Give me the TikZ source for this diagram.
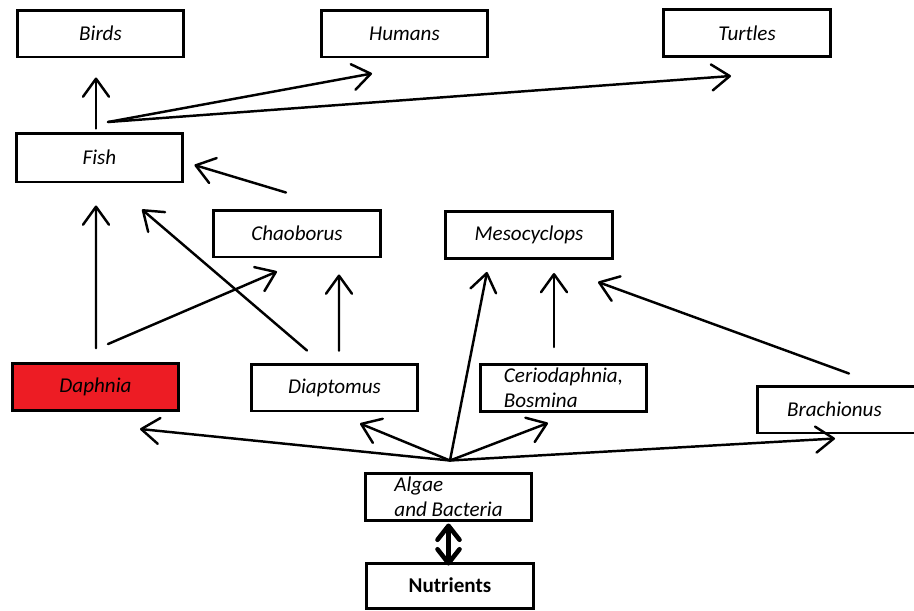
\documentclass[tikz,border=0pt]{standalone}
\usepackage{fontspec}
\setmainfont{Carlito}
\usetikzlibrary{arrows.meta,calc}
\definecolor{paintred}{RGB}{237,28,36}
\tikzset{
  taxon/.style={draw=black,line width=1.7pt,fill=#1,minimum width=3.34cm,
    minimum height=0.94cm,inner sep=2pt,font=\fontsize{12}{14}\selectfont\itshape},
  taxon/.default=white,
  feed/.style={-{Straight Barb[length=3.6mm,width=5.2mm,round]},line width=1.4pt,line cap=round},
  cycle/.style={{Straight Barb[length=2.8mm,width=4.4mm,round]}-{Straight Barb[length=2.8mm,width=4.4mm,round]},
    line width=2.6pt},
}
\begin{document}
\begin{tikzpicture}[x=0.02cm,y=-0.02cm]
  \useasboundingbox (0,0) rectangle (914,610);
  % top predators
  \node[taxon] (birds) at (100.5,33.5) {Birds};
  \node[taxon] (humans) at (404.5,33.5) {Humans};
  \node[taxon] (turtles) at (747,33) {Turtles};
  \node[taxon,minimum height=0.98cm] (fish) at (99.5,157.5) {Fish};
  % invertebrate predators
  \node[taxon] (chaob) at (297,233.5) {Chaoborus};
  \node[taxon] (meso) at (529,235) {Mesocyclops};
  % grazers
  \node[taxon=paintred] (daphnia) at (95.5,387) {Daphnia};
  \node[taxon] (diapt) at (334.5,387.5) {Diaptomus};
  \node[taxon,align=left] (cerio) at (563.5,388) {Ceriodaphnia,\\Bosmina};
  \node[taxon,minimum width=3.5cm] (brach) at (845,409.5) {\hspace*{-12pt}Brachionus};
  % base
  \node[taxon,align=left] (algae) at (448.5,496.5) {Algae\\and Bacteria};
  \node[taxon,minimum height=0.9cm,font=\fontsize{12}{14}\selectfont\bfseries] (nutr) at (450,585.5) {Nutrients};
  \coordinate (hub) at ($(algae.north)+(1.5,-11)$);

  \draw[feed] ($(fish.north)+(-3.5,-3)$) -- ($(birds.south)+(-4.5,19)$);
  \draw[feed] ($(fish.north)+(8.5,-9.5)$) -- ($(humans.south)+(-32.5,15)$);
  \draw[feed] ($(fish.north)+(8.5,-9.5)$) -- ($(turtles.south)+(-16,18)$);
  \draw[feed] ($(chaob.north)+(-11,-16)$) -- ($(fish.east)+(10,7.5)$);
  \draw[feed] ($(daphnia.north)+(0.5,-14)$) -- ($(fish.south)+(-3.5,22)$);
  \draw[feed] ($(diapt.north)+(-27.5,-12)$) -- ($(fish.south)+(42.5,26)$);
  \draw[feed] ($(daphnia.north)+(12.5,-18)$) -- ($(chaob.south)+(-20,13)$);
  \draw[feed] ($(diapt.north)+(4.5,-12)$) -- ($(chaob.south)+(42,16)$);
  \draw[feed] ($(cerio.north)+(-9.5,-16)$) -- ($(meso.south)+(25,13)$);
  \draw[feed] ($(brach.north)+(4,-11)$) -- ($(meso.south)+(69,22)$);
  % from the algae
  \draw[feed] (hub) -- ($(daphnia.south)+(44.5,17)$);
  \draw[feed] (hub) -- ($(diapt.south)+(25.5,11)$);
  \draw[feed] (hub) -- ($(meso.south)+(-42,12)$);
  \draw[feed] (hub) -- ($(cerio.south)+(-15.5,10)$);
  \draw[feed] (hub) -- ($(brach.south)+(-10,4)$);
  \draw[cycle] ($(algae.south)+(0,2)$) -- ($(nutr.north)+(-1.5,4)$);
\end{tikzpicture}
\end{document}
